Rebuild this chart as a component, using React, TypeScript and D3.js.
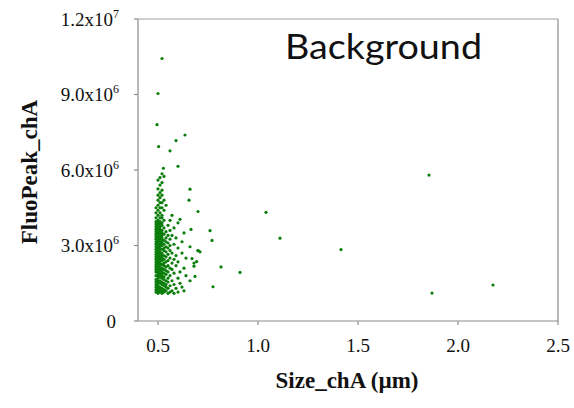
import React from "react";
import * as d3 from "d3";

// [size (µm), FluoPeak (x1e6)]
const clusterPoints: [number, number][] = [
  [0.50,1.10],[0.52,1.10],[0.55,1.10],[0.58,1.10],
  [0.49,1.15],[0.51,1.15],[0.53,1.15],[0.56,1.15],[0.60,1.15],
  [0.50,1.20],[0.52,1.20],[0.54,1.20],[0.57,1.20],[0.63,1.20],
  [0.49,1.25],[0.51,1.25],[0.53,1.25],
  [0.50,1.30],[0.52,1.30],[0.55,1.30],[0.59,1.30],
  [0.49,1.35],[0.51,1.35],[0.54,1.35],[0.62,1.35],
  [0.50,1.40],[0.53,1.40],[0.56,1.40],
  [0.49,1.45],[0.52,1.45],[0.54,1.45],[0.58,1.45],
  [0.50,1.50],[0.51,1.50],[0.53,1.50],[0.61,1.50],
  [0.49,1.55],[0.52,1.55],[0.55,1.55],
  [0.50,1.60],[0.51,1.60],[0.54,1.60],[0.57,1.60],[0.66,1.60],
  [0.49,1.65],[0.53,1.65],
  [0.50,1.70],[0.52,1.70],[0.55,1.70],[0.60,1.70],
  [0.51,1.75],[0.53,1.75],
  [0.49,1.80],[0.50,1.80],[0.52,1.80],[0.56,1.80],[0.64,1.80],
  [0.51,1.85],[0.54,1.85],
  [0.50,1.90],[0.52,1.90],[0.53,1.90],[0.58,1.90],
  [0.49,1.95],[0.51,1.95],[0.55,1.95],[0.61,1.95],
  [0.50,2.00],[0.52,2.00],[0.54,2.00],
  [0.49,2.05],[0.51,2.05],[0.53,2.05],[0.57,2.05],
  [0.50,2.10],[0.52,2.10],[0.56,2.10],[0.63,2.10],
  [0.49,2.15],[0.51,2.15],[0.54,2.15],
  [0.50,2.20],[0.53,2.20],[0.55,2.20],[0.59,2.20],
  [0.49,2.25],[0.51,2.25],[0.52,2.25],
  [0.50,2.30],[0.53,2.30],[0.57,2.30],[0.68,2.30],
  [0.49,2.35],[0.51,2.35],[0.54,2.35],[0.60,2.35],
  [0.50,2.40],[0.52,2.40],[0.55,2.40],
  [0.49,2.45],[0.51,2.45],[0.53,2.45],[0.58,2.45],
  [0.50,2.50],[0.52,2.50],[0.56,2.50],[0.64,2.50],
  [0.49,2.55],[0.51,2.55],[0.54,2.55],
  [0.50,2.60],[0.52,2.60],[0.53,2.60],[0.59,2.60],
  [0.49,2.65],[0.51,2.65],[0.55,2.65],
  [0.50,2.70],[0.52,2.70],[0.57,2.70],[0.62,2.70],
  [0.49,2.75],[0.51,2.75],[0.54,2.75],
  [0.50,2.80],[0.53,2.80],[0.56,2.80],[0.70,2.80],
  [0.49,2.85],[0.51,2.85],[0.52,2.85],
  [0.50,2.90],[0.53,2.90],[0.55,2.90],[0.60,2.90],
  [0.49,2.95],[0.51,2.95],[0.54,2.95],[0.66,2.95],
  [0.50,3.00],[0.52,3.00],[0.56,3.00],
  [0.49,3.05],[0.51,3.05],[0.53,3.05],[0.58,3.05],
  [0.50,3.10],[0.52,3.10],[0.55,3.10],
  [0.49,3.15],[0.51,3.15],[0.54,3.15],[0.62,3.15],
  [0.50,3.20],[0.52,3.20],[0.53,3.20],
  [0.49,3.25],[0.51,3.25],[0.56,3.25],
  [0.50,3.30],[0.52,3.30],[0.54,3.30],[0.59,3.30],
  [0.49,3.35],[0.51,3.35],
  [0.50,3.40],[0.52,3.40],[0.55,3.40],[0.57,3.40],
  [0.49,3.45],[0.51,3.45],[0.53,3.45],
  [0.50,3.50],[0.52,3.50],[0.63,3.50],
  [0.49,3.55],[0.51,3.55],[0.54,3.55],
  [0.50,3.60],[0.52,3.60],[0.56,3.60],
  [0.49,3.65],[0.51,3.65],
  [0.50,3.70],[0.53,3.70],[0.58,3.70],
  [0.49,3.75],[0.51,3.75],
  [0.50,3.80],[0.52,3.80],[0.55,3.80],
  [0.49,3.85],[0.51,3.85],
  [0.50,3.90],[0.52,3.90],[0.60,3.90],
  [0.49,3.95],[0.51,3.95],
  [0.50,4.00],[0.53,4.00],[0.56,4.00],
  [0.49,4.10],[0.51,4.10],[0.52,4.10],
  [0.50,4.20],[0.52,4.20],[0.57,4.20],
  [0.49,4.30],[0.51,4.30],
  [0.50,4.40],[0.53,4.40],
  [0.49,4.50],[0.51,4.50],[0.52,4.50],
  [0.50,4.60],[0.54,4.60],
  [0.51,4.70],[0.52,4.70],
  [0.50,4.80],[0.53,4.80],
  [0.51,4.90],
  [0.50,5.00],[0.52,5.00],
  [0.51,5.10],
  [0.52,5.20],[0.50,5.25],
  [0.51,5.40],
  [0.52,5.50],
  [0.50,5.60],
  [0.51,5.70],[0.53,5.75],
  [0.52,5.85],
];

const outlierPoints: [number, number][] = [
  [0.52,10.43],[0.50,9.04],[0.495,7.80],[0.635,7.39],[0.59,7.17],
  [0.503,6.93],[0.56,6.76],[0.60,6.15],[0.527,6.07],
  [0.66,5.24],[0.655,4.80],[0.70,4.35],[0.61,4.04],[0.665,3.64],
  [0.76,3.59],[0.77,3.20],[0.70,2.80],[0.71,2.75],[0.815,2.15],
  [0.91,1.93],[0.775,1.36],[0.685,1.77],[0.67,2.48],[0.693,2.36],[0.68,2.18],
  [1.04,4.32],[1.11,3.29],[1.415,2.84],[1.855,5.80],[1.87,1.11],[2.175,1.43],
];

const xTicks = [0.5, 1.0, 1.5, 2.0, 2.5];
const xTickLabels = ["0.5", "1.0", "1.5", "2.0", "2.5"];
const yTicks = [0, 3e6, 6e6, 9e6, 1.2e7];
const yTickMantissa = ["0", "3.0", "6.0", "9.0", "1.2"];
const yTickExp = ["", "6", "6", "6", "7"];

const W = 574, H = 408;
const left = 138, right = 558, top = 19, bottom = 321;

export default function App() {
  const x = d3.scaleLinear().domain([0.4, 2.5]).range([left, right]);
  const y = d3.scaleLinear().domain([0, 1.2e7]).range([bottom, top]);
  const pts = [...clusterPoints, ...outlierPoints];
  const axisColor = "#8c8c8c";
  const serif = "'Liberation Serif', 'Times New Roman', serif";
  return (
    <svg width={W} height={H} style={{ position: "absolute", left: 0, top: 0, background: "#fff" }}>
      <rect x={0} y={0} width={W} height={H} fill="#fff" />
      {/* frame */}
      <line x1={left} x2={right} y1={top} y2={top} stroke="#a0a0a0" strokeWidth={1.2} />
      <line x1={right} x2={right} y1={top} y2={bottom} stroke={axisColor} strokeWidth={1.2} />
      <line x1={left} x2={left} y1={top} y2={bottom} stroke={axisColor} strokeWidth={1.2} />
      <line x1={left} x2={right} y1={bottom} y2={bottom} stroke={axisColor} strokeWidth={1.2} />
      {yTicks.map((t, i) => (
        <g key={"y" + i}>
          <line x1={left - 4} x2={left} y1={y(t)} y2={y(t)} stroke={axisColor} strokeWidth={1.2} />
          <text x={yTickExp[i] ? 119 : 116} y={y(t) + 6.5} textAnchor="end" fontFamily={serif} fontSize={19} fill="#111">
            {yTickExp[i] ? (
              <>
                {yTickMantissa[i]}x10
                <tspan fontSize={12} dy={-8}>{yTickExp[i]}</tspan>
              </>
            ) : yTickMantissa[i]}
          </text>
        </g>
      ))}
      {xTicks.map((t, i) => (
        <g key={"x" + i}>
          <line x1={x(t)} x2={x(t)} y1={bottom} y2={bottom + 4} stroke={axisColor} strokeWidth={1.2} />
          <text x={x(t)} y={352} textAnchor="middle" fontFamily={serif} fontSize={19} fill="#111">
            {xTickLabels[i]}
          </text>
        </g>
      ))}
      {pts.map((p, i) => (
        <circle key={i} cx={x(p[0])} cy={y(p[1] * 1e6)} r={1.6} fill="#0a7d0a" />
      ))}
      <text x={347} y={388} textAnchor="middle" fontFamily={serif} fontWeight="bold" fontSize={23} fill="#111">
        Size_chA (µm)
      </text>
      <text transform="translate(37,172) rotate(-90)" textAnchor="middle" fontFamily={serif} fontWeight="bold" fontSize={23} fill="#111">
        FluoPeak_chA
      </text>
      <text x={285} y={59} fontFamily="Lato, 'Open Sans', sans-serif" fontSize={34} fill="#111" textLength={197} lengthAdjust="spacingAndGlyphs">
        Background
      </text>
    </svg>
  );
}
